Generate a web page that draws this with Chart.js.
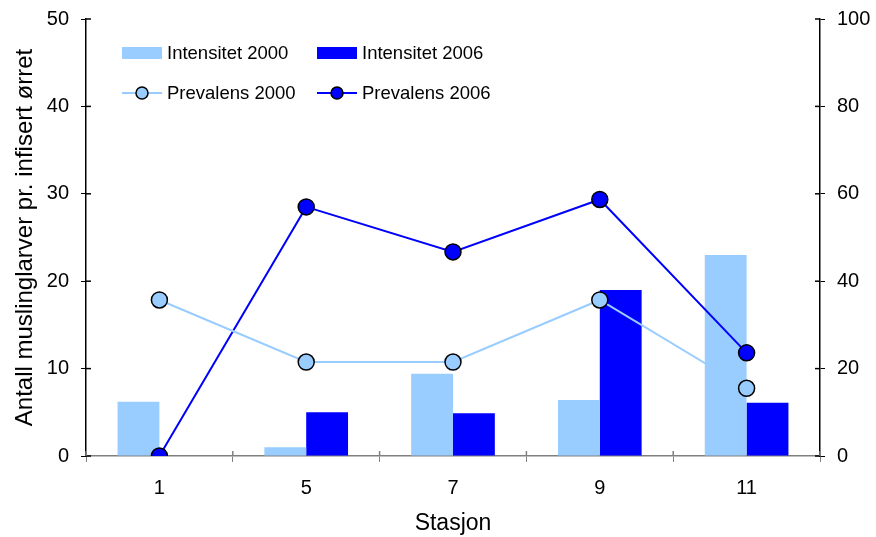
<!DOCTYPE html>
<html lang="no">
<head>
  <meta charset="utf-8">
  <title>Muslinglarver</title>
  <script src="https://cdn.jsdelivr.net/npm/chart.js"></script>
  <style>
    html, body { margin: 0; padding: 0; background: #fff; }
    #wrap { width: 876px; height: 537px; }
  </style>
</head>
<body>
<div id="wrap"><canvas id="chart" width="876" height="537"></canvas></div>
<script>
const stations = ['1', '5', '7', '9', '11'];
const intensitet2000 = [6.2, 1.0, 9.4, 6.4, 23.0];
const intensitet2006 = [0, 5.0, 4.9, 19.0, 6.1];
const prevalens2000 = [35.7, 21.5, 21.5, 35.7, 15.5];
const prevalens2006 = [0, 57.0, 46.7, 58.7, 23.6];
const leftTicks = [0, 10, 20, 30, 40, 50];
const rightTicks = [0, 20, 40, 60, 80, 100];

const light = '#99CCFF';
const dark = '#0000FF';
const font = 'Liberation Sans, Arial, sans-serif';

// legend drawn by hand: 2 x 2 grid in the upper left of the plot
const legendPlugin = {
  id: 'gridLegend',
  afterDraw(chart) {
    const c = chart.ctx;
    const cols = [122, 317];
    const rows = [53, 93];
    c.save();
    c.font = '18.5px ' + font;
    c.textBaseline = 'middle';
    chart.data.datasets.forEach((ds, i) => {
      const x = cols[i % 2], y = rows[Math.floor(i / 2)];
      if (ds.type === 'bar') {
        c.fillStyle = ds.backgroundColor;
        c.fillRect(x, y - 6, 40, 12);
      } else {
        c.strokeStyle = ds.borderColor;
        c.lineWidth = 2;
        c.beginPath(); c.moveTo(x, y); c.lineTo(x + 40, y); c.stroke();
        c.fillStyle = ds.pointBackgroundColor;
        c.strokeStyle = '#000';
        c.lineWidth = 1.5;
        c.beginPath(); c.arc(x + 20, y, 6, 0, Math.PI * 2); c.fill(); c.stroke();
      }
      c.fillStyle = '#000';
      c.fillText(ds.label, x + 45, y + 1);
    });
    c.restore();
  }
};

// the tick marks cross the axis lines, so add the inner half
const innerTicks = {
  id: 'innerTicks',
  afterDatasetsDraw(chart) {
    const c = chart.ctx, s = chart.scales, len = 5;
    c.save();
    c.lineWidth = 1.5;
    c.strokeStyle = '#000';
    s.y.ticks.forEach(t => {
      const py = s.y.getPixelForValue(t.value);
      c.beginPath(); c.moveTo(s.y.right, py); c.lineTo(s.y.right + len, py); c.stroke();
    });
    s.y1.ticks.forEach(t => {
      const py = s.y1.getPixelForValue(t.value);
      c.beginPath(); c.moveTo(s.y1.left, py); c.lineTo(s.y1.left - len, py); c.stroke();
    });
    c.strokeStyle = '#808080';
    const step = (s.x.right - s.x.left) / stations.length;
    for (let i = 0; i <= stations.length; i++) {
      const px = s.x.left + i * step;
      c.beginPath(); c.moveTo(px, s.x.top); c.lineTo(px, s.x.top - len); c.stroke();
    }
    c.restore();
  }
};

function fixWidth(w) {
  return s => { s.width = w; s.paddingTop = 0; s.paddingBottom = 0; };
}

new Chart(document.getElementById('chart'), {
  data: {
    labels: stations,
    datasets: [
      { type: 'bar', label: 'Intensitet 2000', data: intensitet2000, backgroundColor: light, yAxisID: 'y', order: 2,
        categoryPercentage: 0.57, barPercentage: 1.0 },
      { type: 'bar', label: 'Intensitet 2006', data: intensitet2006, backgroundColor: dark, yAxisID: 'y', order: 2,
        categoryPercentage: 0.57, barPercentage: 1.0 },
      { type: 'line', label: 'Prevalens 2000', data: prevalens2000, borderColor: light, borderWidth: 2,
        pointBackgroundColor: light, pointBorderColor: '#000', pointBorderWidth: 1.5, pointRadius: 8,
        yAxisID: 'y1', order: 1 },
      { type: 'line', label: 'Prevalens 2006', data: prevalens2006, borderColor: dark, borderWidth: 2,
        pointBackgroundColor: dark, pointBorderColor: '#000', pointBorderWidth: 1.5, pointRadius: 8,
        yAxisID: 'y1', order: 1 }
    ]
  },
  options: {
    animation: false,
    responsive: false,
    layout: { padding: { top: 19, right: 0, left: 0, bottom: 0 } },
    plugins: { legend: { display: false }, tooltip: { enabled: false } },
    scales: {
      x: {
        grid: { drawOnChartArea: false, color: '#808080', tickLength: 6 },
        border: { color: '#808080', width: 1.5 },
        ticks: { color: '#000', font: { family: font, size: 20 }, padding: 14 },
        title: { display: true, text: 'Stasjon', color: '#000', font: { family: font, size: 23 }, padding: { top: 4, bottom: 0 } },
        afterFit(s) { s.height = 81; }
      },
      y: {
        position: 'left', min: 0, max: 50,
        afterBuildTicks(s) { s.ticks = leftTicks.map(v => ({ value: v })); },
        grid: { drawOnChartArea: false, color: '#000', tickLength: 5 },
        border: { color: '#000', width: 1.5 },
        ticks: { color: '#000', font: { family: font, size: 20 }, padding: 12 },
        title: { display: true, text: 'Antall muslinglarver pr. infisert ørret', color: '#000',
          font: { family: font, size: 24 }, padding: { top: 11, bottom: 0 } },
        afterFit: fixWidth(86)
      },
      y1: {
        position: 'right', min: 0, max: 100,
        afterBuildTicks(s) { s.ticks = rightTicks.map(v => ({ value: v })); },
        grid: { drawOnChartArea: false, color: '#000', tickLength: 5 },
        border: { color: '#000', width: 1.5 },
        ticks: { color: '#000', font: { family: font, size: 20 }, padding: 12 },
        afterFit: fixWidth(56)
      }
    }
  },
  plugins: [innerTicks, legendPlugin]
});
</script>
</body>
</html>
